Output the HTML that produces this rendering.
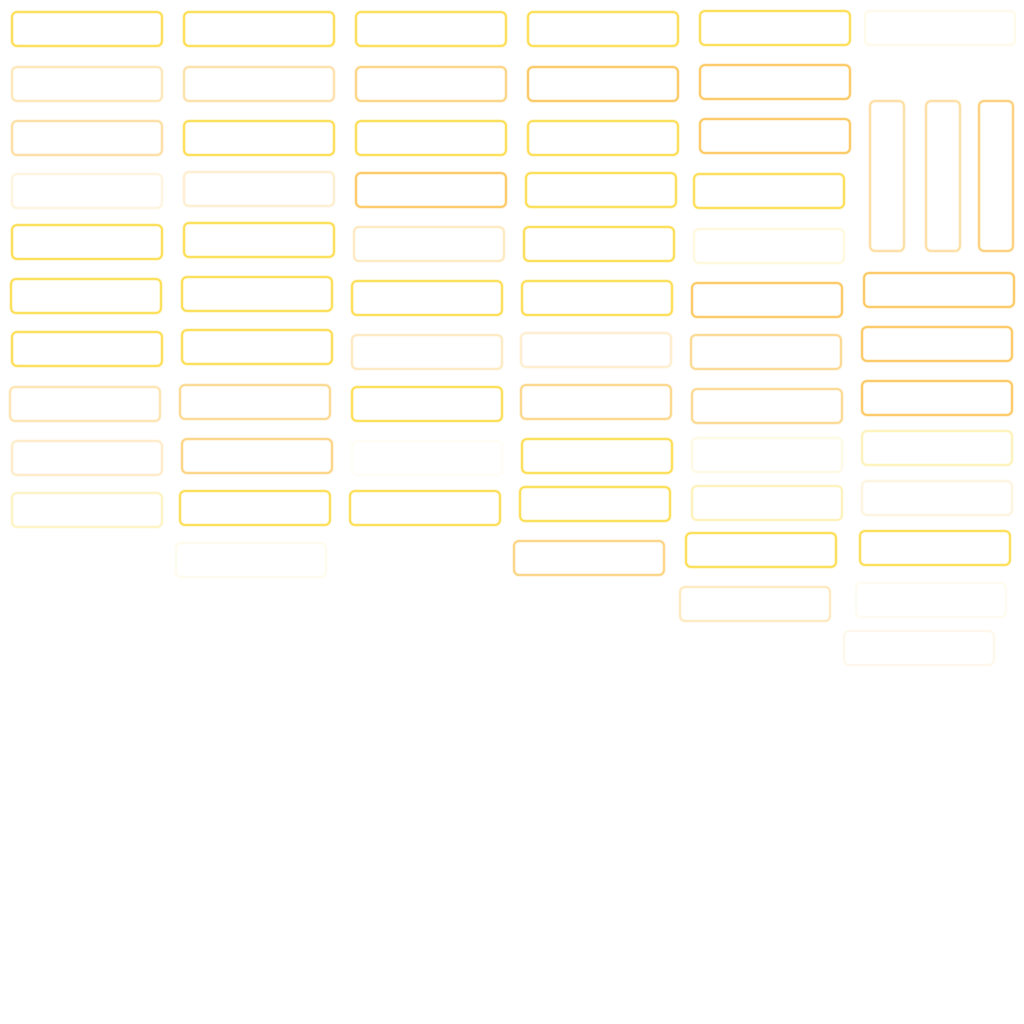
<!DOCTYPE html>
<html><head><meta charset="utf-8"><style>
html,body{margin:0;padding:0;background:#fff;width:1024px;height:1024px;overflow:hidden;position:relative}
.b{position:absolute;width:148px;height:32px;border:2px solid #fdd835;border-radius:6px;filter:blur(0.6px)}
.o{border-color:#fbbf46}
</style></head><body>
<script>
const B=[
[11,11,1],[11,66,.45,1],[11,120,.6,1],[11,173,.2,1],[11,224,1],[10,278,1],[11,331,1],[9,386,.5,1],[11,440,.35,1],[11,492,.35],
[183,11,1],[183,66,.55,1],[183,120,1],[183,171,.3,1],[183,222,1],[181,276,1],[181,329,1],[179,384,.7,1],[181,438,.8,1],[179,490,1],[175,542,.1],
[355,11,1],[355,66,.8,1],[355,120,1],[355,172,1,1],[353,226,.4,1],[351,280,1],[351,334,.4,1],[351,386,1],[351,440,.06],[349,490,1],
[527,11,1],[527,66,1,1],[527,120,1],[525,172,1],[523,226,1],[521,280,1],[520,332,.3,1],[520,384,.75,1],[521,438,1],[519,486,1],[513,540,.8,1],
[699,10,1],[699,64,1,1],[699,118,1,1],[693,173,1],[693,228,.2],[691,282,1,1],[690,334,.7,1],[691,388,.7,1],[691,437,.15],[691,485,.4],[685,532,1],[679,586,.4,1],
[864,10,.12],[863,272,1,1],[861,326,1,1],[861,380,1,1],[861,430,.4],[861,480,.2,1],[859,530,1],[855,582,.08],[843,630,.12,1]
];
let h='';
for(const [x,y,o,c] of B)h+=`<div class="b${c?' o':''}" style="left:${x}px;top:${y}px;opacity:${o}"></div>`;
for(const [x,o] of [[869,.6],[925,.6],[978,.85]])h+=`<div class="b o" style="left:${x}px;top:100px;width:32px;height:148px;opacity:${o}"></div>`;
document.body.innerHTML=h;
</script>
</body></html>
